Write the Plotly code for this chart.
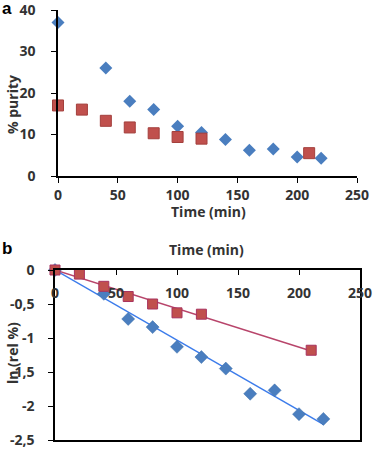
import plotly.graph_objects as go

# Panel a data
a_blue_t = [0, 40, 60, 80, 100, 120, 140, 160, 180, 200, 220]
a_blue_v = [37, 26, 18, 16, 12, 10.5, 8.8, 6.2, 6.5, 4.6, 4.3]
a_red_t = [0, 20, 40, 60, 80, 100, 120, 210]
a_red_v = [17, 16, 13.3, 11.7, 10.3, 9.4, 9.0, 5.5]

# Panel b data
b_blue_t = [0, 40, 60, 80, 100, 120, 140, 160, 180, 200, 220]
b_blue_v = [0, -0.35, -0.72, -0.84, -1.13, -1.28, -1.45, -1.82, -1.77, -2.12, -2.19]
b_red_t = [0, 20, 40, 60, 80, 100, 120, 210]
b_red_v = [0, -0.06, -0.24, -0.39, -0.50, -0.63, -0.65, -1.18]
b_blue_fit_t = [0, 220]
b_blue_fit_v = [0, -2.27]
b_red_fit_t = [0, 210]
b_red_fit_v = [0, -1.19]

x_ticks = [0, 50, 100, 150, 200, 250]
a_y_ticks = [0, 10, 20, 30, 40]
b_y_ticks = [0, -0.5, -1, -1.5, -2, -2.5]
b_y_ticktext = ["0", "-0,5", "-1", "-1,5", "-2", "-2,5"]

BLUE = "#4A7EBF"
RED = "#C0504D"
FAM = "Open Sans, Liberation Sans, sans-serif"
TXT = "#333333"
tickfont = dict(family=FAM, size=14, color=TXT, weight="bold")
titlefont = dict(family=FAM, size=14, color=TXT, weight="bold")

fig = go.Figure()

# Panel a
fig.add_trace(go.Scatter(x=a_blue_t, y=a_blue_v, mode="markers", xaxis="x", yaxis="y",
                         marker=dict(symbol="diamond", size=10, color=BLUE, line=dict(width=0)),
                         showlegend=False, cliponaxis=False))
fig.add_trace(go.Scatter(x=a_red_t, y=a_red_v, mode="markers", xaxis="x", yaxis="y",
                         marker=dict(symbol="square", size=11, color=RED, line=dict(width=1, color="#A33F3C")),
                         showlegend=False, cliponaxis=False))

# Panel b
fig.add_trace(go.Scatter(x=b_red_fit_t, y=b_red_fit_v, mode="lines", xaxis="x2", yaxis="y2",
                         line=dict(color="#B8456B", width=1.5), showlegend=False))
fig.add_trace(go.Scatter(x=b_blue_fit_t, y=b_blue_fit_v, mode="lines", xaxis="x2", yaxis="y2",
                         line=dict(color="#3C7CEB", width=1.5), showlegend=False))
fig.add_trace(go.Scatter(x=b_blue_t, y=b_blue_v, mode="markers", xaxis="x2", yaxis="y2",
                         marker=dict(symbol="diamond", size=10, color=BLUE, line=dict(width=0.5, color="#3D6FA8")),
                         showlegend=False, cliponaxis=False))
fig.add_trace(go.Scatter(x=b_red_t, y=b_red_v, mode="markers", xaxis="x2", yaxis="y2",
                         marker=dict(symbol="square", size=10, color=RED, line=dict(width=1, color="#A8325E")),
                         showlegend=False, cliponaxis=False))
# invisible trace to activate label-only x axis for panel b
fig.add_trace(go.Scatter(x=[0, 250], y=[0, 0], mode="markers", xaxis="x3", yaxis="y2",
                         marker=dict(opacity=0), hoverinfo="skip", showlegend=False))

W, H = 374, 449
common = dict(showgrid=False, zeroline=False, automargin=False, tickcolor="black",
              tickfont=tickfont, ticklabeloverflow="allow")


def ann(text, x, y, angle=0, font=titlefont, xanchor="center", yanchor="middle"):
    return dict(text=text, x=x / W, y=1 - y / H, xref="paper", yref="paper",
                xanchor=xanchor, yanchor=yanchor, showarrow=False, textangle=angle, font=font)


panel_font = dict(family="Liberation Sans, Arial, sans-serif", size=17, color="black")

fig.update_layout(
    width=W, height=H,
    margin=dict(l=0, r=0, t=0, b=0),
    paper_bgcolor="white", plot_bgcolor="white",
    xaxis=dict(domain=[58 / W, 357 / W], range=[0, 250], tickvals=x_ticks,
               showline=True, linecolor="black", linewidth=1.5,
               ticks="outside", ticklen=5,
               anchor="y", **common),
    yaxis=dict(domain=[1 - 176 / H, 1 - 10 / H], range=[0, 40], tickvals=a_y_ticks,
               showline=True, linecolor="black", linewidth=1.5,
               ticks="outside", ticklen=5, ticklabelstandoff=13,
               anchor="x", **common),
    xaxis2=dict(domain=[55 / W, 360 / W], range=[0, 250], tickvals=x_ticks,
                side="top", showticklabels=False,
                showline=True, mirror=True, linecolor="black", linewidth=1.5,
                ticks="inside", ticklen=5,
                anchor="y2", **common),
    xaxis3=dict(domain=[55 / W, 360 / W], range=[0, 250], tickvals=x_ticks,
                overlaying="x2", side="bottom", anchor="free", position=1 - 283 / H,
                showline=False, ticks="", **common),
    yaxis2=dict(domain=[1 - 440 / H, 1 - 270 / H], range=[-2.5, 0], tickvals=b_y_ticks,
                ticktext=b_y_ticktext,
                showline=True, mirror=True, linecolor="black", linewidth=1.5,
                ticks="outside", ticklen=5, ticklabelstandoff=11,
                anchor="x2", **common),
    annotations=[
        ann("<b>a</b>", 0, -3, font=panel_font, xanchor="left", yanchor="top"),
        ann("<b>b</b>", 0, 237, font=panel_font, xanchor="left", yanchor="top"),
        ann("Time (min)", 208, 211),
        ann("% purity", 12, 105, angle=-90),
        ann("Time (min)", 206, 249),
        ann("ln (rel %)", 12, 353, angle=-90),
    ],
)

fig.write_html("out.html", config={"displayModeBar": False},
               post_script="document.body.style.margin='0';document.body.style.overflow='hidden';")
